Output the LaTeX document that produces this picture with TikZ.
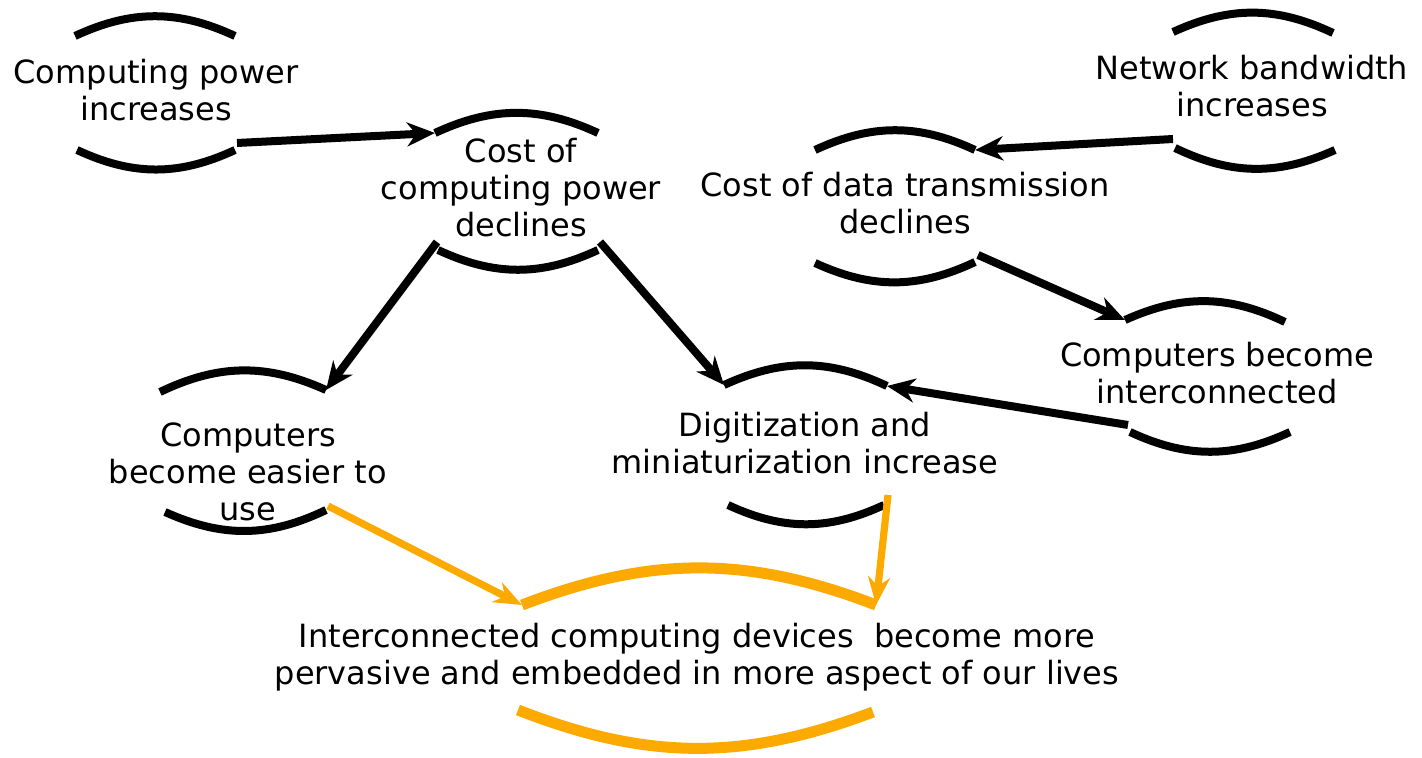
\documentclass[tikz,border=0pt]{standalone}
\usepackage{fontspec}
\setmainfont{DejaVu Sans}
\usetikzlibrary{arrows.meta}
\definecolor{arcorange}{RGB}{252,170,0}

\begin{document}
\begin{tikzpicture}[
    x=0.5pt, y=0.5pt,
    label/.style={align=center, inner sep=0pt, font=\fontsize{16}{18.5}\selectfont},
    arc/.style={line width=4pt},
    bigarc/.style={line width=5.5pt, arcorange},
    link/.style={-{Stealth[length=14pt,width=12pt,inset=4.5pt]}, line width=4pt},
    orangelink/.style={-{Stealth[length=14pt,width=11pt,inset=4.5pt]}, line width=3.6pt, arcorange}
]
    \useasboundingbox (0,0) rectangle (1422,-758);

    % texts
    \node[label] (cpi) at (156,-90) {Computing power\\increases};
    \node[label] (cost) at (521,-188) {Cost of\\computing power\\declines};
    \node[label] (nb) at (1252,-86) {Network bandwidth\\increases};
    \node[label] (cdt) at (905,-203) {Cost of data transmission\\declines};
    \node[label] (inter) at (1217,-373) {Computers become\\interconnected};
    \node[label] (easier) at (248,-472) {Computers\\become easier to\\use};
    \node[label] (digit) at (805,-443) {Digitization and\\miniaturization increase};
    \node[label] (lives) at (697,-657) {Interconnected computing devices\ \ become more\\pervasive and embedded in more aspect of our lives};

    % arc ends
    \coordinate (cpi-tl) at (75,-36);     \coordinate (cpi-tr) at (235,-36);
    \coordinate (cpi-bl) at (77,-150);    \coordinate (cpi-br) at (235,-150);
    \coordinate (cost-tl) at (435,-133);  \coordinate (cost-tr) at (598,-133);
    \coordinate (cost-bl) at (438,-250);  \coordinate (cost-br) at (598,-250);
    \coordinate (nb-tl) at (1173,-32);    \coordinate (nb-tr) at (1333,-33);
    \coordinate (nb-bl) at (1175,-148);   \coordinate (nb-br) at (1335,-150);
    \coordinate (cdt-tl) at (815,-150);   \coordinate (cdt-tr) at (975,-150);
    \coordinate (cdt-bl) at (815,-263);   \coordinate (cdt-br) at (975,-262);
    \coordinate (inter-tl) at (1125,-320); \coordinate (inter-tr) at (1285,-322);
    \coordinate (inter-bl) at (1130,-432); \coordinate (inter-br) at (1290,-432);
    \coordinate (easier-tl) at (160,-392); \coordinate (easier-tr) at (326,-390);
    \coordinate (easier-bl) at (165,-512); \coordinate (easier-br) at (326,-510);
    \coordinate (digit-tl) at (724,-385); \coordinate (digit-tr) at (887,-386);
    \coordinate (digit-bl) at (728,-505); \coordinate (digit-br) at (884,-505);
    \coordinate (lives-tl) at (522,-605); \coordinate (lives-tr) at (876,-605);
    \coordinate (lives-bl) at (518,-710); \coordinate (lives-br) at (873,-712);

    % arrow starts
    \coordinate (cpi-out) at (237,-143);
    \coordinate (nb-out) at (1173,-139);
    \coordinate (cost-outl) at (437,-242);
    \coordinate (cost-outr) at (600,-242);
    \coordinate (cdt-out) at (978,-255);
    \coordinate (inter-out) at (1128,-425);
    \coordinate (easier-out) at (328,-506);
    \coordinate (digit-out) at (888,-495);

    % arcs
    \foreach \n in {cpi,cost,nb,cdt,inter,easier,digit} {
        \draw[arc] (\n-tl) to[bend left=25] (\n-tr);
        \draw[arc] (\n-bl) to[bend right=25] (\n-br);
    }
    \draw[bigarc] (lives-tl) to[bend left=21] (lives-tr);
    \draw[bigarc] (lives-bl) to[bend right=21] (lives-br);

    % arrows
    \draw[link] (cpi-out) -- (cost-tl);
    \draw[link] (nb-out) -- (cdt-tr);
    \draw[link] (cost-outl) -- (easier-tr);
    \draw[link] (cost-outr) -- (digit-tl);
    \draw[link] (cdt-out) -- (inter-tl);
    \draw[link] (inter-out) -- (digit-tr);
    \draw[orangelink] (easier-out) -- (lives-tl);
    \draw[orangelink] (digit-out) -- (lives-tr);
\end{tikzpicture}
\end{document}
